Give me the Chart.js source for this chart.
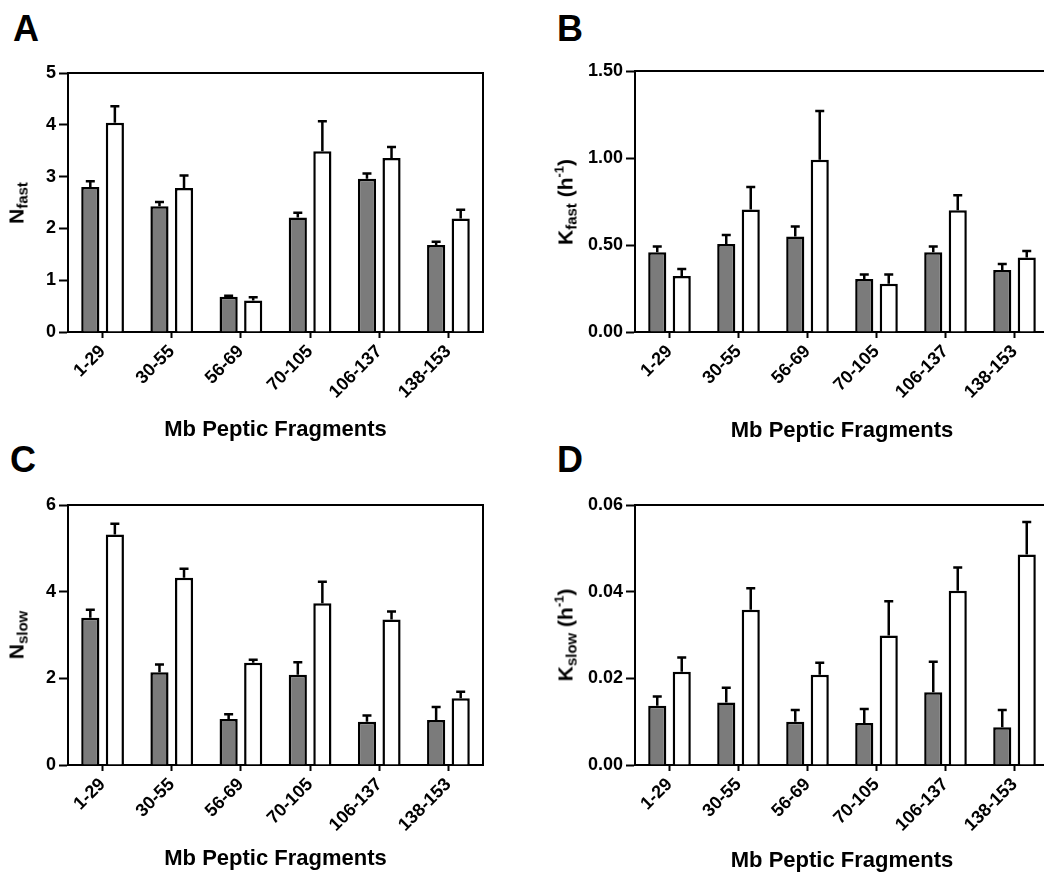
<!DOCTYPE html>
<html>
<head>
<meta charset="utf-8">
<script src="https://cdn.jsdelivr.net/npm/chart.js@4.4.1/dist/chart.umd.min.js"></script>
<style>
  html, body { margin: 0; padding: 0; width: 1044px; height: 875px; overflow: hidden; background: #fff; }
  body { position: relative; font-family: "Liberation Sans", Arial, Helvetica, sans-serif; }
  canvas { position: absolute; }
  .letter { position: absolute; font-weight: bold; font-size: 36px; line-height: 36px; color: #000; }
  .ytitle { position: absolute; font-weight: bold; font-size: 21px; line-height: 21px; color: #000; white-space: nowrap;
            transform: translate(-50%, -50%) rotate(-90deg); }
  .ytitle sub { font-size: 15px; vertical-align: -4px; }
  .ytitle sup { font-size: 13px; vertical-align: 9px; }
</style>
</head>
<body>
<div class="letter" style="left:13px; top:11px;">A</div>
<div class="letter" style="left:557px; top:11px;">B</div>
<div class="letter" style="left:10px; top:442px;">C</div>
<div class="letter" style="left:557px; top:442px;">D</div>

<canvas id="cA" width="520" height="400" style="left:0px; top:50px; width:520px; height:400px;"></canvas>
<canvas id="cB" width="540" height="400" style="left:522px; top:50px; width:540px; height:400px;"></canvas>
<canvas id="cC" width="520" height="395" style="left:0px; top:480px; width:520px; height:395px;"></canvas>
<canvas id="cD" width="540" height="395" style="left:522px; top:480px; width:540px; height:395px;"></canvas>

<div class="ytitle" id="tA">N<sub>fast</sub></div>
<div class="ytitle" id="tB">K<sub>fast</sub> (h<sup>-1</sup>)</div>
<div class="ytitle" id="tC">N<sub>slow</sub></div>
<div class="ytitle" id="tD">K<sub>slow</sub> (h<sup>-1</sup>)</div>

<script>
// ---------------- DATA ----------------
const fragments = ['1-29', '30-55', '56-69', '70-105', '106-137', '138-153'];
const xTitle = 'Mb Peptic Fragments';

// Panel A: N fast
const nFastGray     = [2.80, 2.43, 0.68, 2.21, 2.96, 1.68];
const nFastGrayErr  = [0.11, 0.08, 0.02, 0.09, 0.10, 0.06];
const nFastWhite    = [4.04, 2.78, 0.61, 3.49, 3.36, 2.19];
const nFastWhiteErr = [0.32, 0.24, 0.06, 0.58, 0.21, 0.17];
const nFastTicks    = ['0', '1', '2', '3', '4', '5'];

// Panel B: K fast (h^-1)
const kFastGray     = [0.458, 0.506, 0.549, 0.305, 0.458, 0.357];
const kFastGrayErr  = [0.033, 0.052, 0.057, 0.025, 0.033, 0.034];
const kFastWhite    = [0.322, 0.704, 0.990, 0.278, 0.700, 0.428];
const kFastWhiteErr = [0.040, 0.130, 0.280, 0.052, 0.086, 0.038];
const kFastTicks    = ['0.00', '0.50', '1.00', '1.50'];

// Panel C: N slow
const nSlowGray     = [3.40, 2.14, 1.06, 2.08, 1.00, 1.04];
const nSlowGrayErr  = [0.18, 0.18, 0.11, 0.29, 0.14, 0.30];
const nSlowWhite    = [5.32, 4.32, 2.36, 3.73, 3.36, 1.54];
const nSlowWhiteErr = [0.25, 0.21, 0.07, 0.50, 0.18, 0.15];
const nSlowTicks    = ['0', '2', '4', '6'];

// Panel D: K slow (h^-1)
const kSlowGray     = [0.0137, 0.0144, 0.0100, 0.0097, 0.0168, 0.0087];
const kSlowGrayErr  = [0.0021, 0.0034, 0.0027, 0.0032, 0.0070, 0.0040];
const kSlowWhite    = [0.0215, 0.0358, 0.0208, 0.0299, 0.0402, 0.0486];
const kSlowWhiteErr = [0.0033, 0.0050, 0.0028, 0.0079, 0.0054, 0.0075];
const kSlowTicks    = ['0.00', '0.02', '0.04', '0.06'];

// ---------------- STYLE ----------------
const FONT = '"Liberation Sans", Arial, Helvetica, sans-serif';
const GRAY = '#7b7b7b';

const errorBarPlugin = {
  id: 'errorBars',
  afterDatasetsDraw(chart) {
    const ctx = chart.ctx;
    const ys = chart.scales.y;
    ctx.save();
    ctx.strokeStyle = '#000';
    ctx.lineWidth = 2.5;
    chart.data.datasets.forEach((ds, i) => {
      const meta = chart.getDatasetMeta(i);
      meta.data.forEach((el, j) => {
        const top = ys.getPixelForValue(ds.data[j] + ds.errors[j]);
        const x = el.x;
        ctx.beginPath();
        ctx.moveTo(x, el.y);
        ctx.lineTo(x, top);
        ctx.moveTo(x - 4.5, top);
        ctx.lineTo(x + 4.5, top);
        ctx.stroke();
      });
    });
    ctx.restore();
  }
};

const boxPlugin = {
  id: 'plotBox',
  afterDraw(chart, args, opts) {
    const a = chart.chartArea, ctx = chart.ctx;
    ctx.save();
    ctx.strokeStyle = '#000';
    ctx.lineWidth = 2;
    ctx.beginPath();
    ctx.moveTo(a.left, a.top);
    ctx.lineTo(a.right, a.top);
    if (!opts.openRight) ctx.lineTo(a.right, a.bottom);
    ctx.stroke();
    ctx.restore();
  }
};

function makePanel(p) {
  const chart = new Chart(document.getElementById(p.canvas), {
    type: 'bar',
    data: {
      labels: fragments,
      datasets: [
        { data: p.gray,  errors: p.grayErr,  backgroundColor: GRAY,   borderColor: '#000', borderWidth: 2.5 },
        { data: p.white, errors: p.whiteErr, backgroundColor: '#fff', borderColor: '#000', borderWidth: 2.5 }
      ]
    },
    options: {
      responsive: false,
      animation: false,
      devicePixelRatio: 1,
      datasets: { bar: { categoryPercentage: 0.71, barPercentage: 0.74, borderSkipped: 'start' } },
      layout: { padding: p.padding },
      plugins: { legend: { display: false }, tooltip: { enabled: false }, plotBox: { openRight: p.openRight } },
      scales: {
        x: {
          offset: true,
          grid: { drawOnChartArea: false, offset: false, tickLength: 6, tickWidth: 2, tickColor: '#000' },
          border: { display: true, color: '#000', width: 2 },
          ticks: { minRotation: 45, maxRotation: 45, autoSkip: false, padding: 3, color: '#000',
                   font: { family: FONT, size: 18, weight: 'bold' } },
          title: { display: true, text: xTitle, color: '#000',
                   font: { family: FONT, size: 22, weight: 'bold' }, padding: { top: 0, bottom: p.titlePad } },
          afterFit(s) { s.height = p.xHeight; s.paddingLeft = 0; s.paddingRight = 0; }
        },
        y: {
          min: parseFloat(p.ticks[0]),
          max: parseFloat(p.ticks[p.ticks.length - 1]),
          grid: { drawOnChartArea: false, tickLength: 9, tickWidth: 2, tickColor: '#000' },
          border: { display: true, color: '#000', width: 2 },
          afterBuildTicks(s) { s.ticks = p.ticks.map(t => ({ value: parseFloat(t) })); },
          ticks: { padding: 3, color: '#000', font: { family: FONT, size: 18, weight: 'bold' },
                   callback: (v, i) => p.ticks[i] },
          afterFit(s) { s.width = p.yWidth; s.paddingTop = 0; s.paddingBottom = 0; }
        }
      }
    },
    plugins: [errorBarPlugin, boxPlugin]
  });
  const cv = document.getElementById(p.canvas);
  const t = document.getElementById(p.title);
  const a = chart.chartArea;
  t.style.left = p.titleX + 'px';
  t.style.top = (cv.offsetTop + (a.top + a.bottom) / 2) + 'px';
  return chart;
}

makePanel({ canvas: 'cA', title: 'tA', titleX: 19, gray: nFastGray, grayErr: nFastGrayErr, white: nFastWhite, whiteErr: nFastWhiteErr,
            ticks: nFastTicks, padding: { top: 23, right: 37, bottom: 0, left: 0 }, yWidth: 68, xHeight: 118, titlePad: 7, openRight: false });
makePanel({ canvas: 'cB', title: 'tB', titleX: 565, gray: kFastGray, grayErr: kFastGrayErr, white: kFastWhite, whiteErr: kFastWhiteErr,
            ticks: kFastTicks, padding: { top: 21, right: 13, bottom: 0, left: 0 }, yWidth: 113, xHeight: 118, titlePad: 6, openRight: true });
makePanel({ canvas: 'cC', title: 'tC', titleX: 19, gray: nSlowGray, grayErr: nSlowGrayErr, white: nSlowWhite, whiteErr: nSlowWhiteErr,
            ticks: nSlowTicks, padding: { top: 25, right: 37, bottom: 0, left: 0 }, yWidth: 68, xHeight: 110, titlePad: 3, openRight: false });
makePanel({ canvas: 'cD', title: 'tD', titleX: 565, gray: kSlowGray, grayErr: kSlowGrayErr, white: kSlowWhite, whiteErr: kSlowWhiteErr,
            ticks: kSlowTicks, padding: { top: 25, right: 13, bottom: 0, left: 0 }, yWidth: 113, xHeight: 110, titlePad: 1, openRight: true });
</script>
</body>
</html>
